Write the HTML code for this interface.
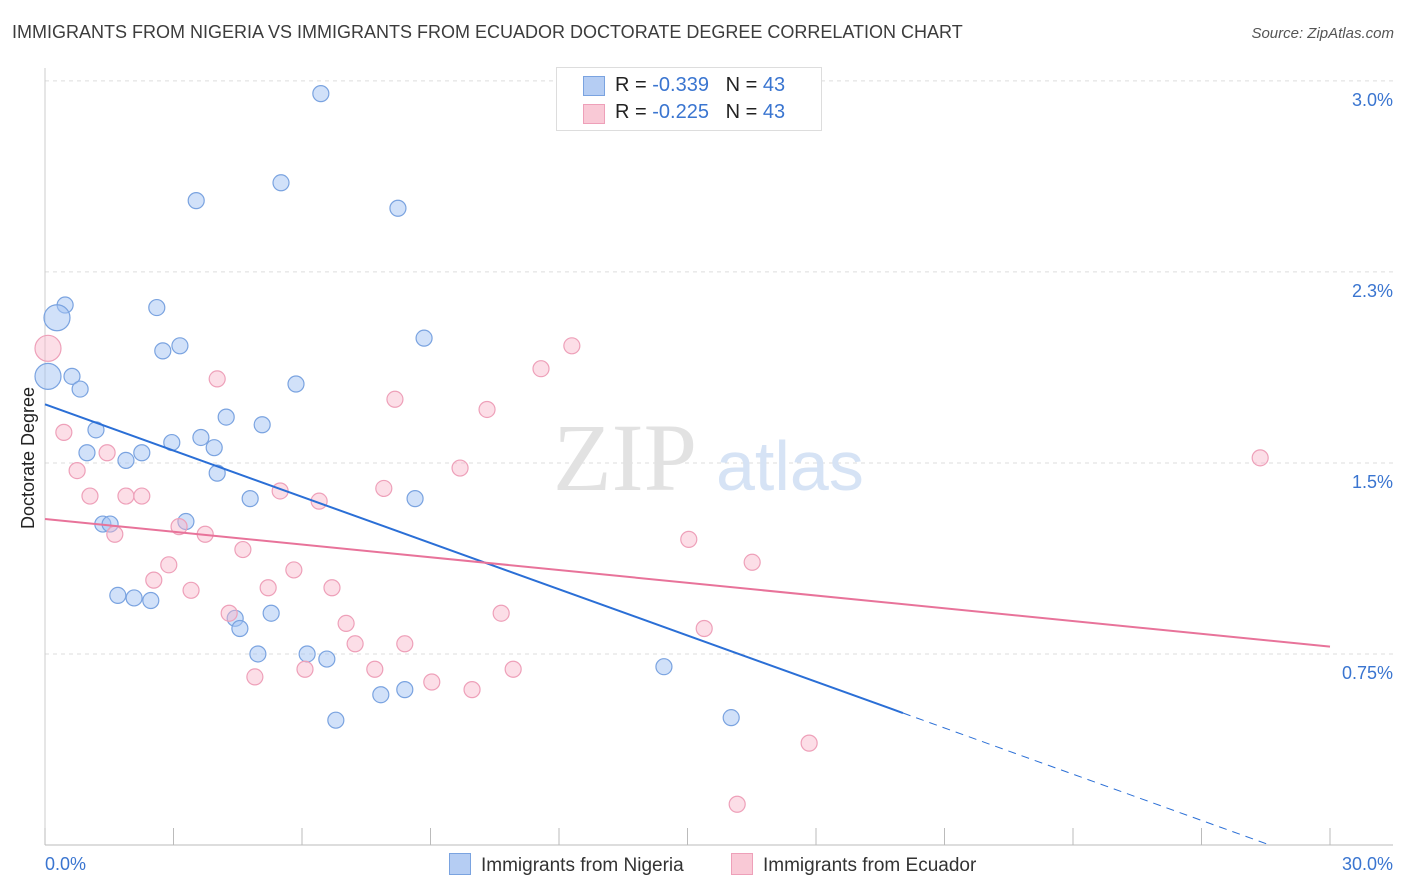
<!DOCTYPE html>
<html><head><meta charset="utf-8"><style>
body{margin:0;background:#fff;font-family:"Liberation Sans",sans-serif;}
#wrap{position:relative;width:1406px;height:892px;overflow:hidden;}
.t{position:absolute;white-space:nowrap;}
</style></head><body>
<div id="wrap">
<div class="t" style="left:12px;top:22px;font-size:18px;color:#3c3c3c;">IMMIGRANTS FROM NIGERIA VS IMMIGRANTS FROM ECUADOR DOCTORATE DEGREE CORRELATION CHART</div>
<div class="t" style="right:12px;top:25px;font-size:15px;color:#555;font-style:italic;">Source: ZipAtlas.com</div>
<svg id="svg" width="1406" height="892" style="position:absolute;left:0;top:0"></svg>
</div>
<script>
const yTicks=[0.75,1.5,2.25,3.0];
const yTickLabels=["0.75%","1.5%","2.3%","3.0%"];
const xTickVals=[0,3,6,9,12,15,18,21,24,27,30];
const nigeriaX=[6.44,5.51,3.53,8.24,0.47,0.28,2.61,3.15,2.75,8.85,0.07,0.63,0.82,5.86,1.19,4.23,5.07,0.98,1.89,2.26,2.96,3.64,3.95,4.02,4.79,8.64,1.35,1.52,3.29,1.70,2.08,2.47,4.44,4.55,5.28,4.97,6.12,6.58,14.45,7.84,8.40,6.79,16.02];
const nigeriaY=[2.95,2.60,2.53,2.50,2.12,2.07,2.11,1.96,1.94,1.99,1.84,1.84,1.79,1.81,1.63,1.68,1.65,1.54,1.51,1.54,1.58,1.60,1.56,1.46,1.36,1.36,1.26,1.26,1.27,0.98,0.97,0.96,0.89,0.85,0.91,0.75,0.75,0.73,0.70,0.59,0.61,0.49,0.50];
const nigeriaBig=[5,10];
const ecuadorX=[0.07,0.44,0.75,1.05,1.89,2.26,1.63,1.45,4.02,3.13,3.74,2.54,2.89,3.41,4.62,5.21,5.49,4.30,5.81,6.40,6.70,7.03,7.24,4.90,6.07,7.70,8.40,7.91,8.17,9.03,9.69,9.97,10.32,10.65,10.93,11.58,12.30,15.03,15.39,16.51,17.84,16.16,28.37];
const ecuadorY=[1.95,1.62,1.47,1.37,1.37,1.37,1.22,1.54,1.83,1.25,1.22,1.04,1.10,1.00,1.16,1.01,1.39,0.91,1.08,1.35,1.01,0.87,0.79,0.66,0.69,0.69,0.79,1.40,1.75,0.64,1.48,0.61,1.71,0.91,0.69,1.87,1.96,1.20,0.85,1.11,0.40,0.16,1.52];
const ecuadorBig=[0];
const nigeriaTrend=[1.73,-0.0605]; const nigeriaSolidEnd=20.03;
const ecuadorTrend=[1.28,-0.0167];
const X=v=>45+v/30*1285, Y=v=>845-v*254.7;
const svg=document.getElementById('svg'),NS='http://www.w3.org/2000/svg';
function mk(t,a,p){const e=document.createElementNS(NS,t);for(const k in a)e.setAttribute(k,a[k]);(p||svg).appendChild(e);return e;}
yTicks.forEach((v,i)=>{
 const g=mk('line',{x1:45,x2:1393,y1:Y(v),y2:Y(v),stroke:'#ddd','stroke-dasharray':'4,4'});
 
 
 const t=mk('text',{x:1393,y:Y(v)+25,'text-anchor':'end','font-size':18,fill:'#3a75d0'});t.textContent=yTickLabels[i];
 
 
});
const ax=mk('line',{x1:45,x2:1393,y1:845,y2:845,stroke:'#bbb'});


const ay=mk('line',{x1:45,x2:45,y1:68,y2:845,stroke:'#ccc'});


xTickVals.forEach(v=>{const l=mk('line',{x1:X(v),x2:X(v),y1:828,y2:845,stroke:'#bbb'});
 
 });
[['0.0%',45,'start'],['30.0%',1393,'end']].forEach(a=>{const t=mk('text',{x:a[1],y:870,'text-anchor':a[2],'font-size':18,fill:'#3a75d0'});t.textContent=a[0];
 
 });
const yt=mk('text',{x:0,y:0,transform:'translate(34,458) rotate(-90)','text-anchor':'middle','font-size':18,fill:'#222'});yt.textContent='Doctorate Degree';


// watermark
const wm=mk('text',{x:553,y:490,'font-size':96,'font-family':'Liberation Serif,serif',fill:'#e2e2e2'});wm.textContent='ZIP';


const wm2=mk('text',{x:716,y:490,'font-size':70,fill:'#d6e3f5'});wm2.textContent='atlas';


function pts(xs,ys,big,fill,stroke,name){xs.forEach((x,i)=>{const c=mk('circle',{cx:X(x),cy:Y(ys[i]),r:big.includes(i)?13:8,fill:fill,stroke:stroke,'stroke-width':1.2});
 
 });}
pts(nigeriaX,nigeriaY,nigeriaBig,'rgba(164,196,244,0.5)','#7aa3e0','nigeria-point');
pts(ecuadorX,ecuadorY,ecuadorBig,'rgba(248,182,202,0.45)','#eea0b9','ecuador-point');
const f=(t,x)=>t[0]+t[1]*x;
const xEnd=-nigeriaTrend[0]/nigeriaTrend[1];
const bl=mk('line',{x1:X(0),y1:Y(f(nigeriaTrend,0)),x2:X(nigeriaSolidEnd),y2:Y(f(nigeriaTrend,nigeriaSolidEnd)),stroke:'#2b6fd6','stroke-width':2});


const bd=mk('line',{x1:X(nigeriaSolidEnd),y1:Y(f(nigeriaTrend,nigeriaSolidEnd)),x2:X(xEnd),y2:Y(0),stroke:'#2b6fd6','stroke-width':1,'stroke-dasharray':'8,6'});


const pl=mk('line',{x1:X(0),y1:Y(f(ecuadorTrend,0)),x2:X(30),y2:Y(f(ecuadorTrend,30)),stroke:'#e8739a','stroke-width':2});


</script>
<div class="t" style="left:556px;top:67px;width:264px;height:62px;border:1px solid #ddd;background:#fff;font-size:20px;color:#222;">
 <div style="position:absolute;left:26px;top:8px;width:20px;height:18px;background:#b5cdf3;border:1px solid #7aa3e0;"></div>
 <div style="position:absolute;left:58px;top:6px;">R = <span style="color:#3a75d0">-0.339</span>&nbsp;&nbsp;&nbsp;N = <span style="color:#3a75d0">43</span></div>
 <div style="position:absolute;left:26px;top:36px;width:20px;height:18px;background:#f9c9d6;border:1px solid #eea0b9;"></div>
 <div style="position:absolute;left:58px;top:33px;">R = <span style="color:#3a75d0">-0.225</span>&nbsp;&nbsp;&nbsp;N = <span style="color:#3a75d0">43</span></div>
</div>
<div class="t" style="left:449px;top:853px;font-size:19px;color:#333;"><span style="display:inline-block;width:20px;height:20px;background:#b5cdf3;border:1px solid #7aa3e0;vertical-align:-4px;margin-right:10px;"></span>Immigrants from Nigeria</div>
<div class="t" style="left:731px;top:853px;font-size:19px;color:#333;"><span style="display:inline-block;width:20px;height:20px;background:#f9c9d6;border:1px solid #eea0b9;vertical-align:-4px;margin-right:10px;"></span>Immigrants from Ecuador</div>
</body></html>
